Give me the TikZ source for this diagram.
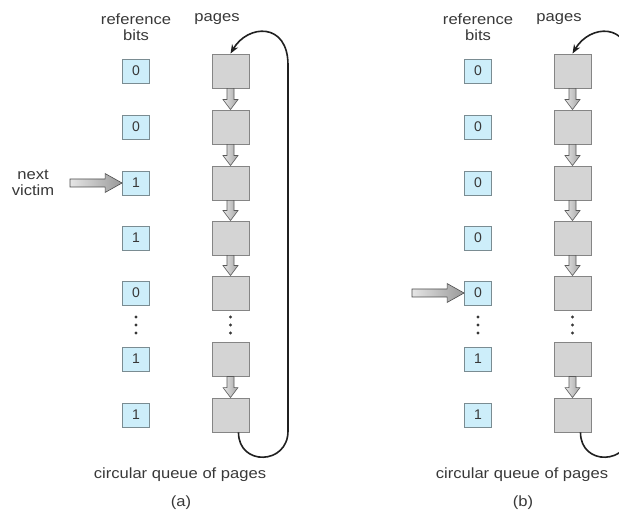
\documentclass[tikz,border=0pt]{standalone}
\usepackage{fontspec}
\setmainfont{Liberation Sans}
\usetikzlibrary{calc,arrows.meta}
\definecolor{bitfill}{HTML}{CDEEFA}
\definecolor{bitdraw}{HTML}{7A8C92}
\definecolor{pagefill}{HTML}{D4D4D4}
\definecolor{pagedraw}{HTML}{858585}
\definecolor{txt}{HTML}{383838}
\definecolor{loopcol}{HTML}{202020}
\tikzset{
  lbl/.style={text=txt, font=\fontsize{14.8}{16}\selectfont, xscale=1.12, align=center, inner sep=0pt},
  bitbox/.style={draw=bitdraw, fill=bitfill, line width=0.9pt, minimum width=27pt, minimum height=24pt, inner sep=0pt, text=txt, font=\fontsize{14}{14}\selectfont},
  pagebox/.style={draw=pagedraw, fill=pagefill, line width=0.9pt, minimum width=37pt, minimum height=34pt, inner sep=0pt},
  fatdown/.style={left color=gray!20, right color=gray!70, draw=gray!70!black, line width=0.6pt},
  fatright/.style={left color=gray!20, right color=gray!80, draw=gray!60!black, line width=0.6pt},
  looppath/.style={draw=loopcol, line width=1.6pt, -{Stealth[length=9pt,width=7pt]}},
  dotmark/.style={fill=txt}
}
% vertical fat arrow from node #1 (bottom) to node #2 (top)
\newcommand\pgdown[2]{%
  \path[fatdown] ($(#1.south)+(-3.5,0)$) -- ($(#2.north)+(-3.5,-10)$) -- ($(#2.north)+(-7.5,-10)$) -- (#2.north)
    -- ($(#2.north)+(7.5,-10)$) -- ($(#2.north)+(3.5,-10)$) -- ($(#1.south)+(3.5,0)$) -- cycle;}
% horizontal fat arrow from coordinate #1 to node #2
\newcommand\pgright[2]{%
  \path[fatright] ($(#1)+(0,-4)$) -- ($(#2.west)+(-17,-4)$) -- ($(#2.west)+(-17,-9.5)$) -- (#2.west)
    -- ($(#2.west)+(-17,9.5)$) -- ($(#2.west)+(-17,4)$) -- ($(#1)+(0,4)$) -- cycle;}
% one panel: #1 prefix, #2 x offset, #3..#9 bits
\newcommand\drawpanel[9]{%
  \begin{scope}[xshift=#2pt]
    \node[lbl] (#1ref) at (136,27) {reference\\bits};
    \node[lbl] (#1pg) at (217,19) {pages};
    \foreach \y/\v/\k in {71/#3/1,127/#4/2,183/#5/3,238/#6/4,293/#7/5,359/#8/6,415/#9/7}{
      \node[bitbox] (#1b\k) at (136,\y) {\v};
    }
    \foreach \y/\k in {71/1,127/2,183/3,238/4,293/5,359/6,415/7}{
      \node[pagebox] (#1p\k) at (230.5,\y) {};
    }
    \foreach \y in {317,325,333}{
      \fill[dotmark] (136,\y) circle[radius=1.6];
      \fill[dotmark] (230.5,\y) circle[radius=1.6];
    }
    \pgdown{#1p1}{#1p2}
    \pgdown{#1p2}{#1p3}
    \pgdown{#1p3}{#1p4}
    \pgdown{#1p4}{#1p5}
    \pgdown{#1p6}{#1p7}
    \coordinate (#1lb) at ($(#1p7.south)+(8,0)$);
    \coordinate (#1lr) at (288,431);
    \coordinate (#1lt) at (288,65);
    \path[looppath] (#1lb) .. controls ($(#1lb)+(0,34)$) and ($(#1lr)+(0,34)$) .. (#1lr)
      -- (#1lt) .. controls (288,22) and (248,24) .. (#1p1.north);
    \node[lbl] (#1cq) at (180,475) {circular queue of pages};
  \end{scope}}
\begin{document}
\begin{tikzpicture}[x=1pt,y=-1pt]
  \useasboundingbox (0,0) rectangle (619,513);
  \clip (0,0) rectangle (619,513);
  \drawpanel{A}{0}{0}{0}{1}{1}{0}{1}{1}
  \drawpanel{B}{342}{0}{0}{0}{0}{0}{1}{1}
  \node[lbl] (capA) at (181,503) {(a)};
  \node[lbl] (capB) at (523,503) {(b)};
  \node[lbl] (victim) at (33,183) {next\\victim};
  \coordinate (tailA) at (70,183);
  \pgright{tailA}{Ab3}
  \coordinate (tailB) at (412,293);
  \pgright{tailB}{Bb5}
\end{tikzpicture}
\end{document}
